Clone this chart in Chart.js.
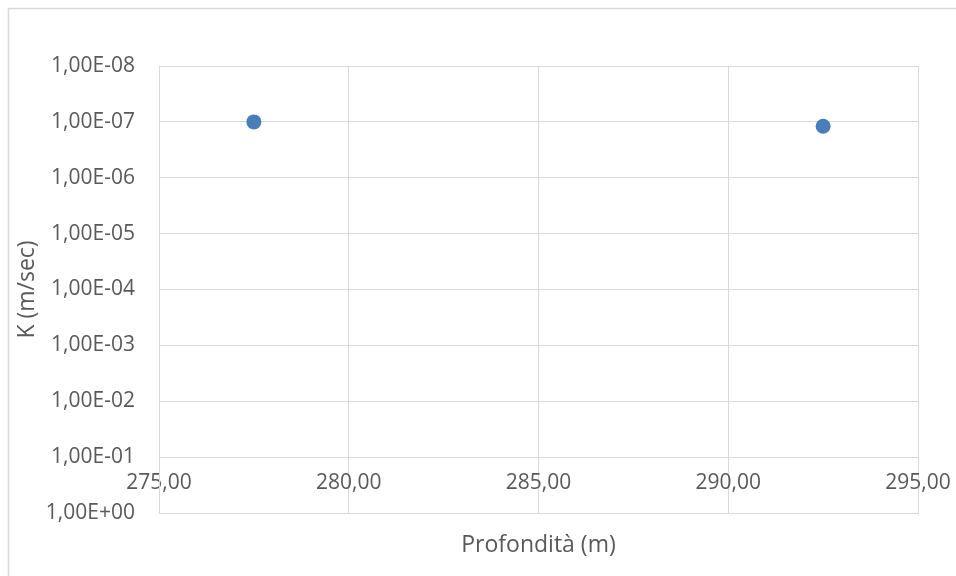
<!DOCTYPE html>
<html>
<head>
<meta charset="utf-8">
<title>K vs Profondità</title>
<script src="https://cdn.jsdelivr.net/npm/chart.js@4/dist/chart.umd.min.js"></script>
<style>
  html, body { margin: 0; padding: 0; background: #fff; }
  #wrap { width: 956px; height: 576px; position: relative; }
</style>
</head>
<body>
<div id="wrap"><canvas id="kChart" width="956" height="576"></canvas></div>
<script>
// depth of each test (m) and measured permeability K (m/sec)
var depths = [277.5, 292.5];
var kValues = [1.0e-7, 1.2e-7];

var xMin = 275, xMax = 295, xStep = 5;
var yMin = 1e-8, yMax = 1;

var textColor = '#595959';
var gridColor = '#d9d9d9';
var fontFamily = "'Open Sans', 'Noto Sans', sans-serif";

function fmtComma(v) {
    return v.toFixed(2).replace('.', ',');
}

// 1,00E-07 style labels
function fmtExp(v) {
    var parts = v.toExponential(2).split('e');
    var exp = parseInt(parts[1], 10);
    var sign = exp < 0 ? '-' : '+';
    var e = Math.abs(exp);
    return parts[0].replace('.', ',') + 'E' + sign + (e < 10 ? '0' + e : '' + e);
}

var points = [];
for (var i = 0; i < depths.length; i++) {
    points.push({x: depths[i], y: kValues[i]});
}

// thin frame around the chart
var framePlugin = {
    id: 'frame',
    beforeDraw: function(chart) {
        var ctx = chart.ctx;
        ctx.save();
        ctx.strokeStyle = gridColor;
        ctx.lineWidth = 1.5;
        ctx.beginPath();
        ctx.moveTo(8.5, chart.height);
        ctx.lineTo(8.5, 8.5);
        ctx.lineTo(chart.width, 8.5);
        ctx.stroke();
        ctx.restore();
    }
};

var ctx = document.getElementById('kChart');
var chart = new Chart(ctx, {
    type: 'scatter',
    data: {
        datasets: [{
            label: 'K',
            data: points,
            backgroundColor: '#4a7ebb',
            borderColor: '#4a7ebb',
            borderWidth: 0,
            pointRadius: 7.5,
            pointHoverRadius: 7.5
        }]
    },
    options: {
        responsive: false,
        animation: false,
        layout: {
            padding: {left: 8, top: 66, right: 38, bottom: 17}
        },
        plugins: {
            legend: {display: false},
            tooltip: {enabled: false}
        },
        scales: {
            x: {
                type: 'linear',
                position: 'bottom',
                min: xMin,
                max: xMax,
                afterFit: function(scale) {
                    scale.height = 46;
                    // let the end labels hang over the layout padding
                    scale.paddingLeft = 0;
                    scale.paddingRight = 0;
                },
                ticks: {
                    stepSize: xStep,
                    // labels sit inside the plot, just above the bottom edge
                    mirror: true,
                    padding: 17,
                    color: textColor,
                    font: {family: fontFamily, size: 21},
                    callback: function(v) { return fmtComma(v); }
                },
                grid: {color: gridColor, lineWidth: 1, drawTicks: false},
                border: {color: gridColor},
                title: {
                    display: true,
                    text: 'Profondità (m)',
                    color: textColor,
                    font: {family: fontFamily, size: 23},
                    padding: {top: 0, bottom: 0}
                }
            },
            y: {
                type: 'logarithmic',
                reverse: true,
                min: yMin,
                max: yMax,
                afterFit: function(scale) { scale.width = 151; },
                afterBuildTicks: function(scale) {
                    var ticks = [];
                    for (var p = -8; p <= 0; p++) {
                        ticks.push({value: Math.pow(10, p)});
                    }
                    scale.ticks = ticks;
                },
                ticks: {
                    padding: 24,
                    color: textColor,
                    font: {family: fontFamily, size: 21},
                    callback: function(v) { return fmtExp(v); }
                },
                grid: {color: gridColor, lineWidth: 1, drawTicks: false},
                border: {color: gridColor},
                title: {
                    display: true,
                    text: 'K (m/sec)',
                    color: textColor,
                    font: {family: fontFamily, size: 23},
                    padding: {top: 6, bottom: 0}
                }
            }
        }
    },
    plugins: [framePlugin]
});
</script>
</body>
</html>
